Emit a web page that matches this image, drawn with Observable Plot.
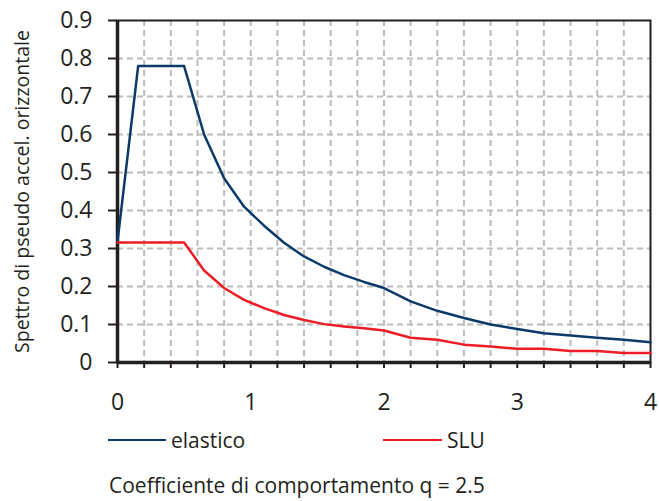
<!DOCTYPE html>
<html>
<head>
<meta charset="utf-8">
<script src="https://cdn.jsdelivr.net/npm/d3@7"></script>
<script src="https://cdn.jsdelivr.net/npm/@observablehq/plot@0.6"></script>
<style>
  html, body { margin: 0; padding: 0; background: #fff; }
  body { width: 659px; height: 501px; overflow: hidden; font-family: "Open Sans", Lato, sans-serif; color: #231f20; }
  #wrap { position: relative; width: 659px; height: 501px; }
  #chart { position: absolute; left: 0; top: 0; }
  .leg { position: absolute; display: flex; align-items: center; font-size: 21px; height: 28px; }
  .leg .sw { display: inline-block; height: 2.5px; margin-right: 5px; }
  #caption { position: absolute; left: 109px; top: 471px; font-size: 21px; white-space: nowrap; line-height: 28px; }
</style>
</head>
<body>
<div id="wrap">
  <div id="chart"></div>
  <div class="leg" style="left:108px; top:426px;"><span class="sw" style="width:58px; background:#0b3a6a;"></span><span>elastico</span></div>
  <div class="leg" style="left:383px; top:426px;"><span class="sw" style="width:59px; background:#ee1c25;"></span><span>SLU</span></div>
  <div id="caption">Coefficiente di comportamento q = 2.5</div>
</div>
<script>
// Period T (s)
const elasticoT = [0, 0.155, 0.5, 0.65, 0.8, 0.95, 1.1, 1.25, 1.4, 1.55, 1.7, 1.85, 2.0, 2.2, 2.4, 2.6, 2.8, 3.0, 3.2, 3.4, 3.6, 3.8, 4.0];
const elasticoS = [0.318, 0.78, 0.78, 0.60, 0.485, 0.41, 0.36, 0.315, 0.279, 0.252, 0.230, 0.212, 0.196, 0.161, 0.136, 0.117, 0.100, 0.088, 0.077, 0.071, 0.065, 0.060, 0.053];
const sluT = [0, 0.5, 0.65, 0.8, 0.95, 1.1, 1.25, 1.4, 1.55, 1.7, 1.85, 2.0, 2.2, 2.4, 2.6, 2.8, 3.0, 3.2, 3.4, 3.6, 3.8, 4.0];
const sluS = [0.316, 0.316, 0.242, 0.196, 0.165, 0.143, 0.125, 0.112, 0.101, 0.095, 0.090, 0.084, 0.065, 0.060, 0.047, 0.042, 0.036, 0.036, 0.030, 0.030, 0.025, 0.025];
const xTickLabels = [0, 1, 2, 3, 4];
const xMinorTicks = d3.range(0, 21).map(i => +(i * 0.2).toFixed(1));
const xGrid = d3.range(1, 20).map(i => +(i * 0.2).toFixed(1));
const yTicks = d3.range(0, 10).map(i => +(i * 0.1).toFixed(1));
const yLabel = "Spettro di pseudo accel. orizzontale";

const elastico = elasticoT.map((t, i) => ({T: t, S: elasticoS[i]}));
const slu = sluT.map((t, i) => ({T: t, S: sluS[i]}));

const fontFamily = "'Open Sans', Lato, sans-serif";
const chart = Plot.plot({
  width: 659,
  height: 418,
  marginLeft: 117,
  marginRight: 9,
  marginTop: 20,
  marginBottom: 56,
  style: {fontFamily, fontSize: "23px", color: "#231f20", background: "#fff"},
  x: {domain: [0, 4]},
  y: {domain: [0, 0.9]},
  marks: [
    Plot.gridY(yTicks.filter(d => d > 0 && d < 0.9), {stroke: "#bcbcbe", strokeOpacity: 1, strokeWidth: 2, strokeDasharray: "6,4"}),
    Plot.gridX(xGrid, {stroke: "#bcbcbe", strokeOpacity: 1, strokeWidth: 2, strokeDasharray: "6,4"}),
    Plot.frame({stroke: "#231f20", strokeWidth: 2}),
    Plot.ruleX([0], {stroke: "#231f20", strokeWidth: 3.5}),
    Plot.ruleY([0], {stroke: "#231f20", strokeWidth: 3.5}),
    Plot.axisY({ticks: yTicks, tickSize: 9, tickPadding: 16, tickFormat: d => d3.format(".1f")(d).replace(/^0\.0$/, "0"), label: null, strokeWidth: 2, stroke: "#231f20", fontSize: 23}),
    Plot.axisX({ticks: xMinorTicks, tickSize: 6, tickFormat: () => "", label: null, strokeWidth: 2, stroke: "#231f20"}),
    Plot.axisX({ticks: xTickLabels, tickSize: 0, tickPadding: 31, tickFormat: d => String(d), label: null, fontSize: 23}),
    Plot.line(elastico, {x: "T", y: "S", stroke: "#0b3a6a", strokeWidth: 2.5}),
    Plot.line(slu, {x: "T", y: "S", stroke: "#ee1c25", strokeWidth: 2.5}),
    Plot.text([yLabel], {frameAnchor: "left", dx: -95, rotate: -90, fontSize: 19.5, fill: "#231f20", textAnchor: "middle", lineAnchor: "middle"})
  ]
});
document.getElementById("chart").appendChild(chart);
</script>
</body>
</html>
